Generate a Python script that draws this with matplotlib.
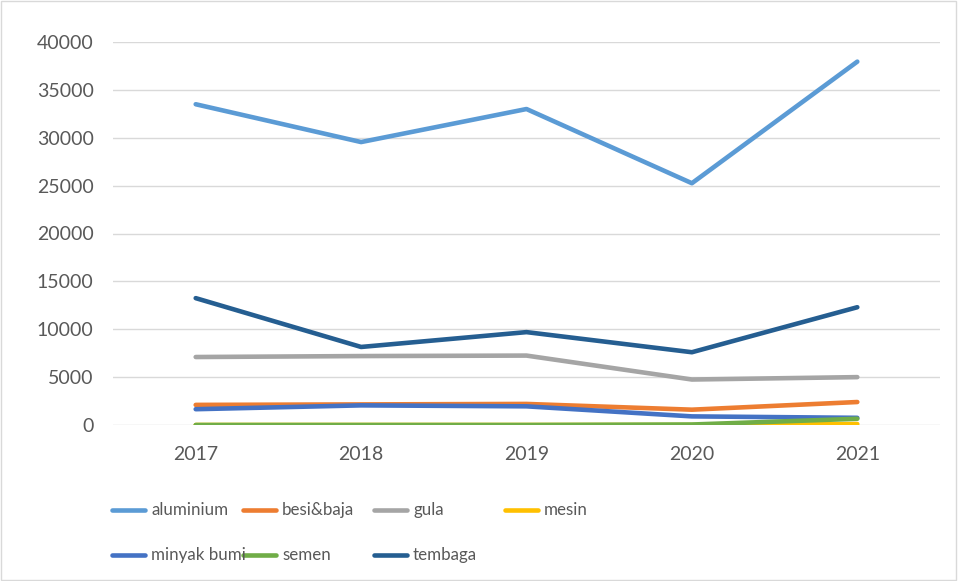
import matplotlib.pyplot as plt
from matplotlib.lines import Line2D
from matplotlib.patches import Rectangle

# data
years = ['2017', '2018', '2019', '2020', '2021']
aluminium = [33500, 29550, 33000, 25250, 37950]
besi_baja = [2100, 2150, 2200, 1600, 2400]
gula = [7100, 7200, 7250, 4750, 5000]
mesin = [0, 0, 0, 0, 100]
minyak_bumi = [1650, 2050, 1950, 900, 750]
semen = [0, 0, 0, 50, 650]
tembaga = [13250, 8150, 9700, 7600, 12300]

series = [
    ('aluminium', aluminium, '#5b9bd5'),
    ('besi&baja', besi_baja, '#ed7d31'),
    ('gula', gula, '#a5a5a5'),
    ('mesin', mesin, '#ffc000'),
    ('minyak bumi', minyak_bumi, '#4472c4'),
    ('semen', semen, '#70ad47'),
    ('tembaga', tembaga, '#255e91'),
]

plt.rcParams['font.family'] = ['Lato', 'DejaVu Sans']

W, H = 958, 581
fig = plt.figure(figsize=(W / 100, H / 100), dpi=100)
ax = fig.add_axes([113 / W, 1 - 425 / H, 827 / W, 383 / H])

x = range(len(years))
for name, vals, col in series:
    ax.plot(x, vals, color=col, lw=3.3, solid_capstyle='round', label=name)

ax.set_xlim(-0.5, len(years) - 0.5)
ax.set_ylim(0, 40000)
ax.set_yticks(range(0, 40001, 5000))
ax.set_xticks(list(x))
ax.set_xticklabels(years)
ax.grid(axis='y', color='#d9d9d9', lw=1)
ax.set_axisbelow(True)
for s in ax.spines.values():
    s.set_visible(False)
ax.tick_params(length=0, labelsize=14, colors='#595959')
ax.tick_params(axis='x', pad=15)
ax.tick_params(axis='y', pad=14)

# legend, 4 entries per row, fixed column pitch like the original
for i, (name, vals, col) in enumerate(series):
    r, c = divmod(i, 4)
    x0 = (112 + 131 * c) / W
    y0 = 1 - (510 + 45 * r) / H
    fig.add_artist(Line2D([x0, x0 + 33 / W], [y0, y0], color=col, lw=3.3,
                          solid_capstyle='round', transform=fig.transFigure))
    fig.text(x0 + 39 / W, y0, name, fontsize=12.2, color='#595959', va='center')

fig.patches.append(Rectangle((0.001, 0.001), 0.997, 0.997, transform=fig.transFigure,
                             fill=False, ec='#d9d9d9', lw=1))

fig.savefig('out.png', dpi=100)
